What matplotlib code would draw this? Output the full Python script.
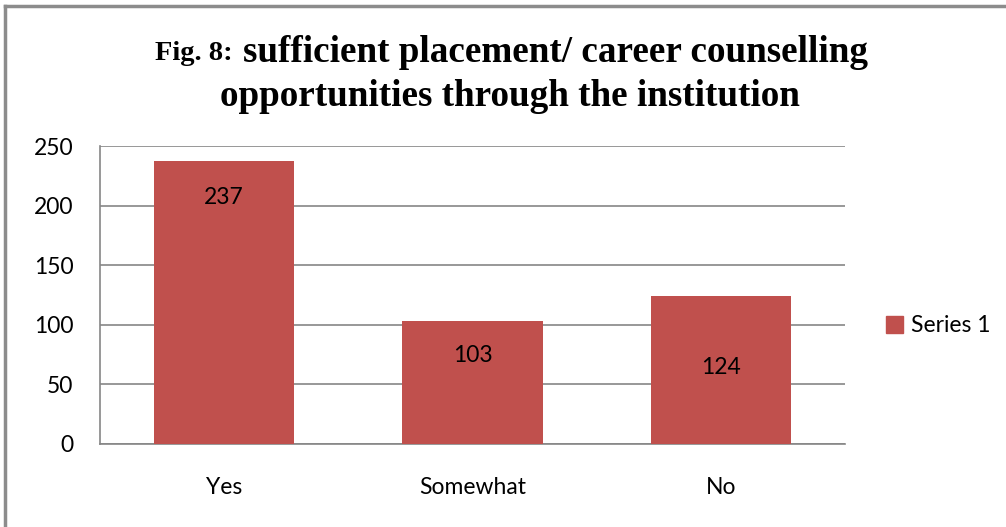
import matplotlib
matplotlib.use("Agg")
import matplotlib.pyplot as plt
from matplotlib.lines import Line2D
from matplotlib.patches import Patch

categories = ["Yes", "Somewhat", "No"]
values = [237, 103, 124]
label_pos = [207, 74, 64]  # where the value labels sit inside the bars
yticks = [0, 50, 100, 150, 200, 250]

bar_color = "#C0504D"
grid_color = "#868686"
frame_color = "#8C8C8C"
fs = 16.5

fig = plt.figure(figsize=(10.06, 5.27), dpi=100)
ax = fig.add_axes([100 / 1006, 83 / 527, 745 / 1006, 298 / 527])

x = range(len(categories))
ax.bar(x, values, width=0.565, color=bar_color, zorder=3)
for i, (v, p) in enumerate(zip(values, label_pos)):
    ax.text(i, p, str(v), ha="center", va="center", fontsize=fs,
            family="Lato", color="black", zorder=4)

ax.set_xlim(-0.5, len(categories) - 0.5)
ax.set_ylim(0, 250)
ax.set_yticks(yticks)
ax.set_xticks(list(x))
ax.set_xticklabels(categories)
ax.yaxis.grid(True, color=grid_color, linewidth=1.2, zorder=0)
ax.tick_params(axis="both", length=0, labelsize=fs)
ax.tick_params(axis="y", pad=19)
ax.tick_params(axis="x", pad=24)
for lab in ax.get_xticklabels() + ax.get_yticklabels():
    lab.set_family("Lato")
for s in ["top", "right"]:
    ax.spines[s].set_visible(False)
for s in ["left", "bottom"]:
    ax.spines[s].set_color(grid_color)
    ax.spines[s].set_linewidth(1.2)

leg = fig.legend(handles=[Patch(color=bar_color, label="Series 1")],
                 loc="center left", bbox_to_anchor=(865 / 1006, 1 - 326 / 527),
                 frameon=False, handlelength=0.75, handleheight=0.75,
                 handletextpad=0.35, prop={"family": "Lato", "size": fs})

# title: "Fig. 8:" is set a bit smaller than the rest
fig.text(240 / 1006, 1 - 53 / 527, "Fig. 8: ", ha="right", va="center",
         family="Liberation Serif", weight="bold", fontsize=20.5)
fig.text(243 / 1006, 1 - 53 / 527, "sufficient placement/ career counselling",
         ha="left", va="center", family="Liberation Serif", weight="bold",
         fontsize=26.7)
fig.text(510 / 1006, 1 - 96 / 527, "opportunities through the institution",
         ha="center", va="center", family="Liberation Serif", weight="bold",
         fontsize=26.7)

# outer frame (only top and left edges are visible in the source)
fig.add_artist(Line2D([5 / 1006, 1], [1 - 6 / 527, 1 - 6 / 527],
                      color=frame_color, linewidth=2.5))
fig.add_artist(Line2D([5 / 1006, 5 / 1006], [0, 1 - 6 / 527],
                      color=frame_color, linewidth=2.5))

fig.savefig("out.png", dpi=100)
